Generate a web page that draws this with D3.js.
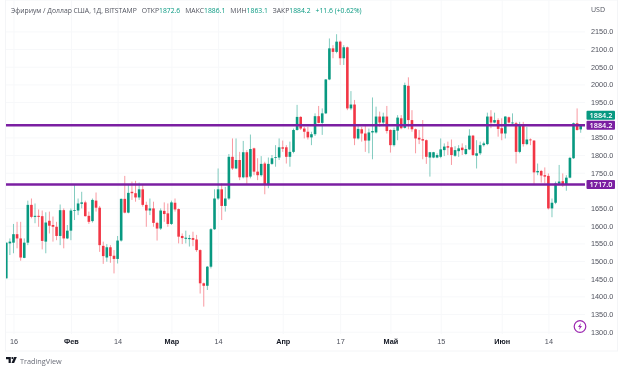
<!DOCTYPE html>
<html>
<head>
<meta charset="utf-8">
<script src="https://cdn.jsdelivr.net/npm/d3@7"></script>
<style>
    html, body { margin: 0; padding: 0; background: #fff; }
    svg { display: block; font-family: "Open Sans", sans-serif; filter: blur(0.3px); }
    .tick text { fill: #50535e; font-size: 7.3px; }
    .tick line { stroke: #f7f8fa; }
    .domain { display: none; }
    .xAxis .month text { font-weight: 700; fill: #131722; }
    .wick { stroke-width: 1; opacity: 0.5; }
</style>
</head>
<body>
<script>
    var startDay = new Date(Date.UTC(2023, 0, 14));

    var opens = [1451,1550,1552,1576,1564,1509,1552,1659,1625,1628,1627,1555,1614,1602,1597,1571,1644,1564,1586,1642,
        1643,1662,1666,1628,1613,1671,1651,1543,1510,1539,1515,1506,1558,1676,1637,1696,1692,1680,1703,1659,
        1643,1649,1608,1592,1642,1635,1605,1665,1647,1571,1563,1562,1565,1561,1531,1437,1430,1484,1590,1677,
        1703,1656,1677,1795,1762,1786,1737,1808,1739,1819,1753,1743,1776,1715,1775,1792,1793,1822,1822,1795,
        1809,1871,1908,1875,1866,1850,1859,1910,1891,1918,2014,2102,2092,2121,2074,2105,1932,1943,1847,1873,
        1861,1841,1864,1864,1909,1892,1909,1871,1828,1869,1904,1877,1996,1899,1873,1849,1845,1842,1793,1793,
        1793,1795,1814,1825,1822,1798,1811,1821,1803,1816,1855,1798,1805,1828,1831,1909,1892,1899,1876,1861,
        1907,1890,1890,1809,1883,1831,1844,1841,1751,1755,1743,1741,1649,1665,1719,1726,1717,1736,1791,1890,1872.6];

    var highs = [1552,1564,1605,1611,1611,1564,1671,1677,1663,1646,1643,1638,1640,1626,1611,1660,1649,1602,1649,1715,
        1677,1696,1671,1640,1677,1694,1656,1555,1548,1545,1531,1571,1677,1741,1715,1725,1727,1722,1715,1668,
        1677,1668,1611,1649,1666,1663,1671,1677,1649,1578,1586,1574,1583,1574,1533,1439,1486,1593,1703,1762,
        1720,1710,1803,1847,1847,1809,1840,1814,1858,1821,1791,1797,1781,1793,1800,1828,1847,1841,1828,1838,
        1875,1942,1910,1880,1880,1866,1918,1939,1932,2015,2130,2111,2142,2124,2111,2107,1981,1956,1885,1880,
        1885,1875,1963,1937,1923,1920,1939,1873,1878,1913,1913,2005,2020,1927,1875,1871,1899,1844,1809,1809,
        1805,1847,1833,1838,1844,1825,1828,1833,1828,1873,1857,1842,1838,1838,1920,1927,1920,1904,1904,1910,
        1909,1918,1894,1894,1894,1880,1847,1842,1776,1758,1765,1748,1677,1725,1772,1748,1743,1795,1892,1932,1886.1];

    var lows = [1451,1517,1522,1536,1501,1508,1545,1621,1607,1597,1533,1522,1578,1555,1559,1545,1536,1562,1559,1616,
        1630,1649,1626,1605,1609,1640,1526,1492,1498,1495,1465,1493,1555,1635,1635,1673,1668,1673,1654,1597,
        1630,1597,1558,1588,1611,1597,1602,1640,1550,1548,1550,1541,1542,1526,1408,1371,1418,1479,1588,1673,
        1616,1640,1673,1758,1760,1729,1734,1718,1734,1743,1729,1739,1689,1706,1772,1767,1786,1809,1776,1767,
        1805,1869,1871,1847,1844,1828,1854,1890,1857,1916,2012,2074,2088,2055,2055,1927,1927,1828,1844,1838,
        1809,1805,1788,1861,1880,1882,1861,1807,1824,1842,1873,1875,1873,1866,1805,1831,1788,1775,1739,1791,
        1791,1791,1797,1800,1772,1795,1795,1800,1800,1814,1797,1762,1800,1824,1828,1876,1890,1852,1842,1847,
        1890,1885,1776,1805,1824,1828,1828,1715,1743,1722,1720,1646,1624,1661,1715,1710,1699,1734,1789,1869,1863.1];

    var closes = [1552,1555,1576,1564,1510,1552,1659,1625,1628,1625,1557,1609,1600,1597,1571,1644,1564,1586,1643,1644,
        1663,1666,1627,1611,1673,1651,1545,1514,1539,1514,1506,1558,1676,1637,1693,1692,1680,1703,1659,1643,
        1649,1608,1592,1643,1633,1605,1666,1646,1569,1565,1566,1565,1560,1531,1437,1430,1484,1590,1677,1703,
        1656,1677,1795,1762,1786,1737,1808,1737,1817,1753,1743,1775,1715,1775,1791,1794,1822,1818,1795,1809,
        1871,1908,1875,1866,1850,1859,1910,1891,1918,2014,2102,2092,2121,2074,2105,1932,1943,1847,1874,1861,
        1841,1864,1868,1909,1892,1909,1868,1828,1871,1906,1876,1998,1899,1873,1847,1844,1841,1795,1808,1808,
        1800,1816,1824,1821,1800,1814,1819,1814,1817,1855,1800,1805,1828,1833,1909,1892,1899,1874,1861,1909,
        1892,1892,1809,1885,1831,1844,1842,1751,1755,1742,1739,1649,1665,1720,1725,1715,1736,1792,1890,1871,1884.2];

    // 1900 and 1700 sit under the price tags, they are not readable in the reference
    var priceTicks = [1300,1350,1400,1450,1500,1550,1600,1650,1750,1800,1850,1950,2000,2050,2100,2150];
    var dateTicks = [[0, 16], [1, 1], [1, 14], [2, 1], [2, 14], [3, 1], [3, 17], [4, 1], [4, 15], [5, 1], [5, 14]];
    var monthNames = ["", "Фев", "Мар", "Апр", "Май", "Июн"];
    var levels = [1884.2, 1717.0];
    var lastClose = 1884.2;

    var green = "#089981", red = "#f23645", purple = "#7b1fa2";
    var width = 624, height = 371;
    var plotLeft = 6, plotRight = 585, plotTop = 0, plotBottom = 351;

    var days = opens.map(function(o, i) { return d3.utcDay.offset(startDay, i); });

    var x = d3.scaleUtc().domain([days[0], days[days.length - 1]]).range([6.3, 580.7]);
    var y = d3.scaleLinear().domain([1300, 2150]).range([331.7, 31.4]);

    var svg = d3.select("body").append("svg").attr("width", width).attr("height", height);

    svg.append("defs").append("clipPath").attr("id", "plot")
        .append("rect").attr("x", plotLeft).attr("y", plotTop)
        .attr("width", plotRight - plotLeft).attr("height", plotBottom - plotTop);

    // very faint frame, the page behind the widget is a touch off-white
    svg.append("rect").attr("x", 5.5).attr("y", 0).attr("width", 612).attr("height", plotBottom)
        .attr("fill", "#fff").attr("stroke", "#f4f5f7");

    var yAxis = svg.append("g").attr("class", "yAxis").attr("transform", "translate(" + plotRight + ",0)")
        .call(d3.axisRight(y).tickValues(priceTicks).tickFormat(d3.format(".1f")).tickSize(0).tickPadding(6));
    yAxis.selectAll(".tick").append("line").attr("x1", plotLeft - plotRight).attr("x2", 0);

    var tickDates = dateTicks.map(function(d) { return new Date(Date.UTC(2023, d[0], d[1])); });
    var xAxis = svg.append("g").attr("class", "xAxis").attr("transform", "translate(0," + plotBottom + ")")
        .call(d3.axisBottom(x).tickValues(tickDates).tickSize(0).tickPadding(-12.5)
            .tickFormat(function(d) { return d.getUTCDate() == 1 ? monthNames[d.getUTCMonth()] : d.getUTCDate(); }));
    xAxis.selectAll(".tick").classed("month", function(d) { return d.getUTCDate() == 1; })
        .append("line").attr("y1", plotTop - plotBottom).attr("y2", -17);

    var candles = svg.append("g").attr("clip-path", "url(#plot)").selectAll("g")
        .data(days).enter().append("g");
    var candleColor = function(d, i) { return closes[i] >= opens[i] ? green : red; };

    candles.append("line").classed("wick", true)
        .attr("x1", function(d) { return x(d); })
        .attr("x2", function(d) { return x(d); })
        .attr("y1", function(d, i) { return y(highs[i]); })
        .attr("y2", function(d, i) { return y(lows[i]); })
        .attr("stroke", candleColor);
    candles.append("rect")
        .attr("x", function(d) { return x(d) - 1.3; })
        .attr("width", 2.6)
        .attr("y", function(d, i) { return y(Math.max(opens[i], closes[i])); })
        .attr("height", function(d, i) { return Math.max(0.8, Math.abs(y(opens[i]) - y(closes[i]))); })
        .attr("fill", candleColor);

    svg.selectAll(".level").data(levels).enter().append("line").classed("level", true)
        .attr("x1", plotLeft).attr("x2", plotRight)
        .attr("y1", function(d) { return y(d); })
        .attr("y2", function(d) { return y(d); })
        .attr("stroke", purple).attr("stroke-width", 2.5);

    function priceTag(value, cy, color) {
        var g = svg.append("g").attr("transform", "translate(" + plotRight + "," + cy + ")");
        g.append("rect").attr("x", 1.5).attr("y", -4.5).attr("width", 28.5).attr("height", 9).attr("rx", 1).attr("fill", color);
        g.append("text").attr("x", 16).attr("y", 2.7).attr("text-anchor", "middle")
            .attr("font-size", 7.3).attr("font-weight", 600).attr("fill", "#fff").text(d3.format(".1f")(value));
    }
    priceTag(lastClose, y(lastClose) - 10, green);
    levels.forEach(function(l) { priceTag(l, y(l), purple); });

    // legend line above the plot
    var legend = svg.append("text").attr("x", 11).attr("y", 13).attr("font-size", 6.8).attr("fill", "#50535e");
    legend.append("tspan").text("Эфириум / Доллар США, 1Д, BITSTAMP");
    [["ОТКР", "1872.6"], ["МАКС", "1886.1"], ["МИН", "1863.1"], ["ЗАКР", "1884.2"]].forEach(function(p) {
        legend.append("tspan").attr("dx", 5).text(p[0]);
        legend.append("tspan").attr("fill", green).text(p[1]);
    });
    legend.append("tspan").attr("dx", 5).attr("fill", green).text("+11.6 (+0.62%)");

    svg.append("text").attr("x", 598).attr("y", 12).attr("text-anchor", "middle")
        .attr("font-size", 7).attr("fill", "#50535e").text("USD");

    // lightning badge
    var badge = svg.append("g").attr("transform", "translate(580,326.5)");
    badge.append("circle").attr("r", 5.8).attr("fill", "#fff").attr("stroke", "#9c27b0").attr("stroke-width", 1.2);
    badge.append("path").attr("d", "M1,-3.5L-2,0.5H-0.2L-1,3.5L2,-0.6H0.2Z").attr("fill", "#9c27b0");

    // logo and name
    var logo = svg.append("g").attr("transform", "translate(6,357)").attr("fill", "#131722");
    logo.append("path").attr("d", "M0,0H4.8V6H2.6V2.3H0Z");
    logo.append("circle").attr("cx", 6.4).attr("cy", 1.1).attr("r", 1.1);
    logo.append("path").attr("d", "M8.2,0H10.8L8.1,6H5.5Z");
    svg.append("text").attr("x", 20).attr("y", 364).attr("font-size", 7.3).attr("fill", "#6a6d78").text("TradingView");
</script>
</body>
</html>
